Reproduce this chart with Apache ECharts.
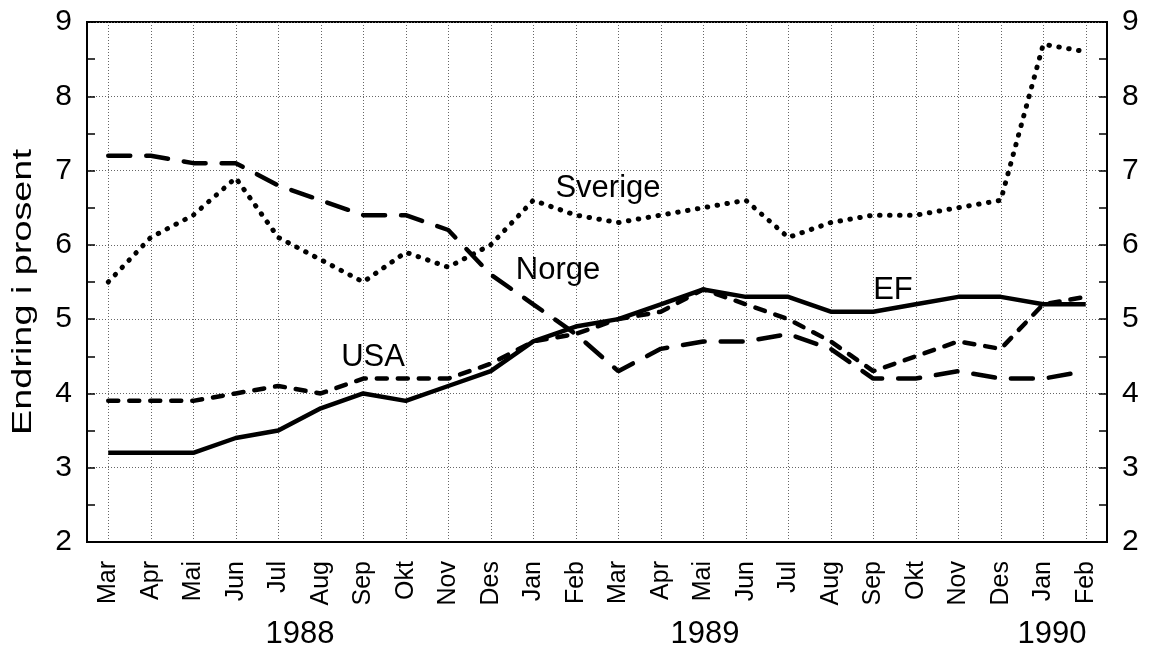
<!DOCTYPE html>
<html>
<head>
<meta charset="utf-8">
<script src="https://cdn.jsdelivr.net/npm/echarts@6/dist/echarts.min.js"></script>
<style>
html,body{margin:0;padding:0;background:#fff;}
#c{width:1149px;height:652px;}
</style>
</head>
<body>
<div id="c"></div>
<script>
var months = ['Mar','Apr','Mai','Jun','Jul','Aug','Sep','Okt','Nov','Des','Jan','Feb',
              'Mar','Apr','Mai','Jun','Jul','Aug','Sep','Okt','Nov','Des','Jan','Feb'];
var years = ['1988','1989','1990'];
var ef      = [3.2,3.2,3.2,3.4,3.5,3.8,4.0,3.9,4.1,4.3,4.7,4.9, 5.0,5.2,5.4,5.3,5.3,5.1,5.1,5.2,5.3,5.3,5.2,5.2];
var usa     = [3.9,3.9,3.9,4.0,4.1,4.0,4.2,4.2,4.2,4.4,4.7,4.8, 5.0,5.1,5.4,5.2,5.0,4.7,4.3,4.5,4.7,4.6,5.2,5.3];
var norge   = [7.2,7.2,7.1,7.1,6.8,6.6,6.4,6.4,6.2,5.6,5.2,4.8, 4.3,4.6,4.7,4.7,4.8,4.6,4.2,4.2,4.3,4.2,4.2,4.3];
var sverige = [5.5,6.1,6.4,6.9,6.1,5.8,5.5,5.9,5.7,6.0,6.6,6.4, 6.3,6.4,6.5,6.6,6.1,6.3,6.4,6.4,6.5,6.6,8.7,8.6];
var yTicks = [2,3,4,5,6,7,8,9];

var FONT = "'Liberation Sans', Arial, Helvetica, sans-serif";
var chart = echarts.init(document.getElementById('c'));

function yAxisDef(pos){
  return {
    type:'value', position:pos, min:yTicks[0], max:yTicks[yTicks.length-1], interval:1,
    axisLine:{show:true, lineStyle:{color:'#000', width:2}},
    axisTick:{show:true, inside:true, length:8, lineStyle:{color:'#000', width:1.5}},
    minorTick:{show:true, splitNumber:2, length:8, lineStyle:{color:'#000', width:1.5}},
    axisLabel:{color:'#000', fontSize:30, fontFamily:FONT, margin:15},
    splitLine:{show: pos==='left', lineStyle:{color:'#666', width:1, type:[1,2]}}
  };
}

function txt(x, y, s, size){
  return {type:'text', x:x, y:y, style:{text:s, font:size+'px '+FONT, fill:'#000', textAlign:'center', textVerticalAlign:'middle'}};
}

chart.setOption({
  animation:false,
  backgroundColor:'#fff',
  grid:{left:87, right:42, top:22, bottom:110, show:true, borderColor:'#000', borderWidth:2},
  xAxis:{
    type:'category', data:months, boundaryGap:true,
    axisLine:{show:true, lineStyle:{color:'#000', width:2}},
    axisTick:{show:false},
    axisLabel:{rotate:90, color:'#000', fontSize:25, fontFamily:FONT, margin:19, interval:0},
    splitLine:{show:true, alignWithLabel:true, interval:0, lineStyle:{color:'#666', width:1, type:[1,2]}}
  },
  yAxis:[yAxisDef('left'), yAxisDef('right')],
  graphic:[
    {type:'text', x:24, y:292, rotation:Math.PI/2, scaleX:1.4, scaleY:1,
     style:{text:'Endring i prosent', font:'27px '+FONT, fill:'#000', textAlign:'center', textVerticalAlign:'middle'}},
    txt(300, 634, years[0], 31),
    txt(705, 634, years[1], 31),
    txt(1052, 634, years[2], 31),
    txt(608, 188, 'Sverige', 31),
    txt(558, 270, 'Norge', 31),
    txt(373, 357, 'USA', 31),
    txt(893, 290, 'EF', 31)
  ],
  series:[
    {name:'Sverige', type:'line', data:sverige, showSymbol:false, symbol:'none',
     lineStyle:{color:'#000', width:5, type:[0.5,9.5], cap:'round'}},
    {name:'Norge', type:'line', data:norge, showSymbol:false, symbol:'none',
     lineStyle:{color:'#000', width:4.5, type:[22,16], cap:'round'}},
    {name:'USA', type:'line', data:usa, showSymbol:false, symbol:'none',
     lineStyle:{color:'#000', width:4.5, type:[10,11], cap:'round'}},
    {name:'EF', type:'line', data:ef, showSymbol:false, symbol:'none',
     lineStyle:{color:'#000', width:4.5, type:'solid'}}
  ]
});
</script>
</body>
</html>
